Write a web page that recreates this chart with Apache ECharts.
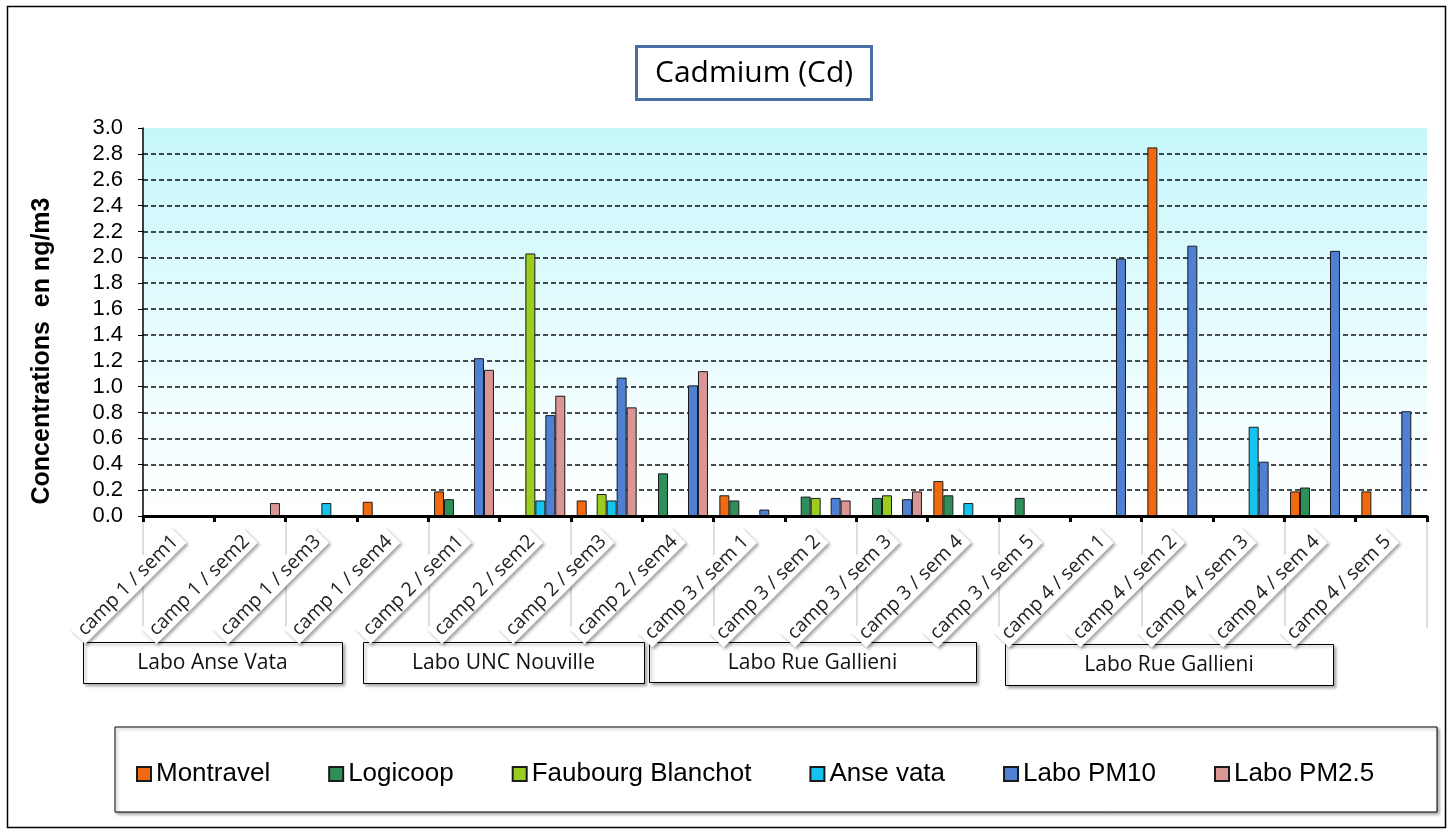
<!DOCTYPE html>
<html><head><meta charset="utf-8">
<script src="https://cdn.jsdelivr.net/npm/echarts@6/dist/echarts.min.js"></script>
<style>html,body{margin:0;padding:0;background:#fff}#c{width:1453px;height:832px}</style>
</head><body><div id="c"></div>
<script>
const categories = ['camp 1 / sem1','camp 1 / sem2','camp 1 / sem3','camp 1 / sem4','camp 2 / sem1','camp 2 / sem2','camp 2 / sem3','camp 2 / sem4','camp 3 / sem 1','camp 3 / sem 2','camp 3 / sem 3','camp 3 / sem 4','camp 3 / sem 5','camp 4 / sem 1','camp 4 / sem 2','camp 4 / sem 3','camp 4 / sem 4','camp 4 / sem 5'];
const seriesNames = ['Montravel','Logicoop','Faubourg Blanchot','Anse vata','Labo PM10','Labo PM2.5'];
const montravel = [null,null,null,0.11,0.19,null,0.12,null,0.16,null,null,0.27,null,null,2.85,null,0.19,0.19];
const logicoop  = [null,null,null,null,0.13,null,null,0.33,0.12,0.15,0.14,0.16,0.14,null,null,null,0.22,null];
const faubourg  = [null,null,null,null,null,2.03,0.17,null,null,0.14,0.16,null,null,null,null,null,null,null];
const anseVata  = [null,null,0.10,null,null,0.12,0.12,null,null,null,null,0.10,null,null,null,0.69,null,null];
const laboPM10  = [null,null,null,null,1.22,0.78,1.07,1.01,0.05,0.14,0.13,null,null,1.99,2.09,0.42,2.05,0.81];
const laboPM25  = [null,0.10,null,null,1.13,0.93,0.84,1.12,null,0.12,0.19,null,null,null,null,null,null,null];
const seriesColors = ['#f26a10','#2f8f5b','#9acd1e','#14c4ef','#4f80d3','#d99694'];
const yMin = 0, yMax = 3.0, yStep = 0.2;
const titleText = 'Cadmium (Cd)';
const yAxisTitle = 'Concentrations  en ng/m3';
const groupLabels = ['Labo Anse Vata','Labo UNC Nouville','Labo Rue Gallieni','Labo Rue Gallieni'];

const seriesData = [montravel, logicoop, faubourg, anseVata, laboPM10, laboPM25];
const chart = echarts.init(document.getElementById('c'), null, {renderer:'canvas'});

const groupBoxes = [
  {x:83, y:642, w:259, h:41},
  {x:363, y:642, w:281, h:41},
  {x:649, y:642, w:327, h:40},
  {x:1005, y:644, w:328, h:41}
];
const graphics = [
  {type:'rect', z:-10, silent:true, shape:{x:7.5,y:6.5,width:1438,height:821}, style:{fill:'none', stroke:'#000', lineWidth:1.5}},
  {type:'rect', z:-10, silent:true, shape:{x:115,y:727,width:1322,height:85}, style:{fill:'#fff', stroke:'#000', lineWidth:1, shadowBlur:3, shadowOffsetX:2, shadowOffsetY:2, shadowColor:'rgba(0,0,0,0.35)'}},
  {type:'text', x:42, y:351, rotation:Math.PI/2, style:{text:yAxisTitle, font:'bold 25px "Liberation Sans", Arial, sans-serif', fill:'#000', align:'center', verticalAlign:'middle'}}
];
groupLabels.forEach((g,i)=>{
  const b = groupBoxes[i];
  graphics.push({type:'rect', silent:true, shape:{x:b.x+0.5,y:b.y+0.5,width:b.w,height:b.h}, style:{fill:'#fff', stroke:'#000', lineWidth:1, shadowBlur:3, shadowOffsetX:2, shadowOffsetY:2, shadowColor:'rgba(0,0,0,0.35)'}});
  graphics.push({type:'text', silent:true, x:b.x+b.w/2, y:b.y+b.h/2+1, style:{text:g, font:'21px "Open Sans", sans-serif', fill:'#111', align:'center', verticalAlign:'middle'}});
});

chart.setOption({
  animation:false,
  backgroundColor:'#fff',
  title:{text:titleText, left:636, top:46, padding:[8,19], borderColor:'#4a6fa5', borderWidth:3, backgroundColor:'#fff',
    textStyle:{fontFamily:'"Open Sans", sans-serif', fontSize:30, fontWeight:'normal', color:'#000', lineHeight:38}},
  grid:{left:143, right:26, top:128, bottom:316, show:true, borderWidth:0,
    backgroundColor:new echarts.graphic.LinearGradient(0,0,0,1,[{offset:0,color:'#c6f7fb'},{offset:0.55,color:'#e8fcfe'},{offset:1,color:'#ffffff'}])},
  legend:{data:seriesNames, left:131, top:756, itemWidth:14, itemHeight:14, itemGap:58, icon:'rect',
    textStyle:{fontFamily:'"Liberation Sans", Arial, sans-serif', fontSize:26, color:'#000'}},
  xAxis:[{
    type:'category', data:categories, z:5,
    axisLine:{lineStyle:{color:'#000', width:3}},
    axisTick:{show:true, length:6, lineStyle:{color:'#000', width:3}},
    axisLabel:{interval:0, rotate:45, margin:19, fontFamily:'"Open Sans", sans-serif', fontSize:19.5, color:'#222',
      backgroundColor:'#fff', padding:[1,5], shadowBlur:3, shadowOffsetX:2, shadowOffsetY:2, shadowColor:'rgba(0,0,0,0.35)'},
    splitLine:{show:false}
  },{
    type:'category', data:categories, position:'bottom', z:1,
    axisLine:{show:false},
    axisTick:{show:true, length:112, lineStyle:{color:'#dddddd', width:2}},
    axisLabel:{show:false}
  }],
  yAxis:{
    type:'value', min:yMin, max:yMax, interval:yStep,
    axisLine:{show:true, lineStyle:{color:'#000', width:1.5}},
    axisTick:{show:true, length:5, lineStyle:{color:'#000'}},
    axisLabel:{formatter:v=>v.toFixed(1), fontFamily:'"Liberation Sans", Arial, sans-serif', fontSize:22, color:'#000', margin:20},
    splitLine:{show:true, showMinLine:false, showMaxLine:false, lineStyle:{color:'#111', type:[5,3], width:1.5}}
  },
  series: seriesNames.map((n,i)=>({
    name:n, type:'bar', xAxisIndex:0, data:seriesData[i], barGap:'0%', barCategoryGap:'16%',
    itemStyle:{color:seriesColors[i], borderColor:'#1a1a1a', borderWidth:1}
  })),
  graphic:graphics
});
</script></body></html>
